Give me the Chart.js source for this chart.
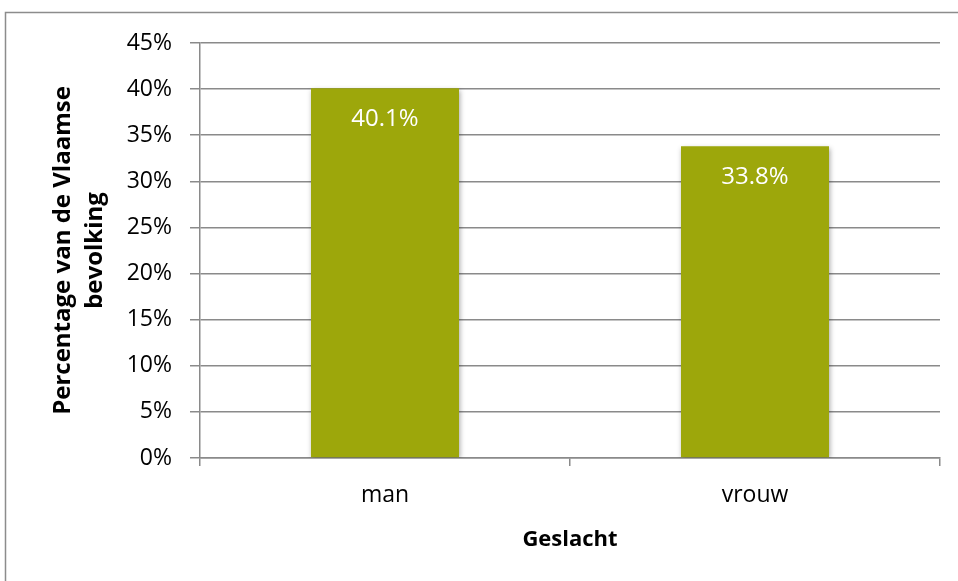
<!DOCTYPE html>
<html>
<head>
<meta charset="utf-8">
<script src="https://cdn.jsdelivr.net/npm/chart.js@4"></script>
<style>
  body { margin: 0; background: #fff; }
</style>
</head>
<body>
<canvas id="barChart" width="958" height="581"></canvas>
<script>
  // data
  var categories = ["man", "vrouw"];
  var percentages = [40.1, 33.8];
  var yMin = 0, yMax = 45, yStep = 5;

  var fontFamily = "'Open Sans', Lato, sans-serif";
  var gridColor = '#8a8a8a';

  // grey frame around the chart (left and top edge visible)
  var framePlugin = {
    id: 'frame',
    beforeDraw: function (chart) {
      var ctx = chart.ctx;
      ctx.save();
      ctx.strokeStyle = '#8c8c8c';
      ctx.lineWidth = 1.5;
      ctx.beginPath();
      ctx.moveTo(5.5, 581);
      ctx.lineTo(5.5, 12.5);
      ctx.lineTo(958, 12.5);
      ctx.stroke();
      ctx.restore();
    }
  };

  // soft shadow under the bars
  var shadowPlugin = {
    id: 'barShadow',
    beforeDatasetsDraw: function (chart) {
      var ctx = chart.ctx;
      ctx.save();
      ctx.shadowColor = 'rgba(0,0,0,0.35)';
      ctx.shadowBlur = 5;
      ctx.shadowOffsetX = 1;
      ctx.shadowOffsetY = 2;
    },
    afterDatasetsDraw: function (chart) {
      chart.ctx.restore();
    }
  };

  // value labels inside the top of each bar
  var labelPlugin = {
    id: 'valueLabels',
    afterDatasetsDraw: function (chart) {
      var ctx = chart.ctx;
      ctx.save();
      ctx.shadowColor = 'transparent';
      ctx.fillStyle = '#ffffff';
      ctx.font = '24px ' + fontFamily;
      ctx.textAlign = 'center';
      ctx.textBaseline = 'middle';
      chart.getDatasetMeta(0).data.forEach(function (bar, i) {
        ctx.fillText(percentages[i].toFixed(1) + '%', bar.x, bar.y + 31);
      });
      ctx.restore();
    }
  };

  var ctx = document.getElementById('barChart').getContext('2d');
  var myBarChart = new Chart(ctx, {
    type: 'bar',
    data: {
      labels: categories,
      datasets: [{
        label: 'Percentage',
        data: percentages,
        backgroundColor: 'rgb(157, 167, 11)',
        borderWidth: 0,
        barPercentage: 0.4,
        categoryPercentage: 1
      }]
    },
    options: {
      responsive: false,
      animation: false,
      devicePixelRatio: 1,
      layout: { padding: { left: 0, top: 43, right: 18, bottom: 0 } },
      plugins: {
        legend: { display: false },
        tooltip: { enabled: false }
      },
      scales: {
        x: {
          grid: {
            offset: true,
            drawOnChartArea: false,
            drawTicks: true,
            tickLength: 8,
            color: gridColor,
            lineWidth: 1.5
          },
          border: { display: true, color: gridColor, width: 1.5 },
          ticks: {
            color: '#000',
            padding: 16,
            font: { family: fontFamily, size: 23 }
          },
          title: {
            display: true,
            text: 'Geslacht',
            color: '#000',
            font: { family: fontFamily, size: 22, weight: 'bold' },
            padding: { top: 0, bottom: 28 }
          },
          afterFit: function (scale) { scale.height = 123; }
        },
        y: {
          min: yMin,
          max: yMax,
          ticks: {
            stepSize: yStep,
            color: '#000',
            padding: 18,
            font: { family: fontFamily, size: 23 },
            callback: function (v) { return v + '%'; }
          },
          grid: {
            color: gridColor,
            lineWidth: 1.5,
            tickLength: 10
          },
          border: { display: true, color: gridColor, width: 1.5 },
          title: {
            display: true,
            text: ['Percentage van de Vlaamse', 'bevolking'],
            color: '#000',
            font: { family: fontFamily, size: 24, weight: 'bold', lineHeight: 1.35 },
            padding: { top: 47, bottom: 0 }
          },
          afterFit: function (scale) { scale.width = 200; }
        }
      }
    },
    plugins: [framePlugin, shadowPlugin, labelPlugin]
  });
</script>
</body>
</html>
